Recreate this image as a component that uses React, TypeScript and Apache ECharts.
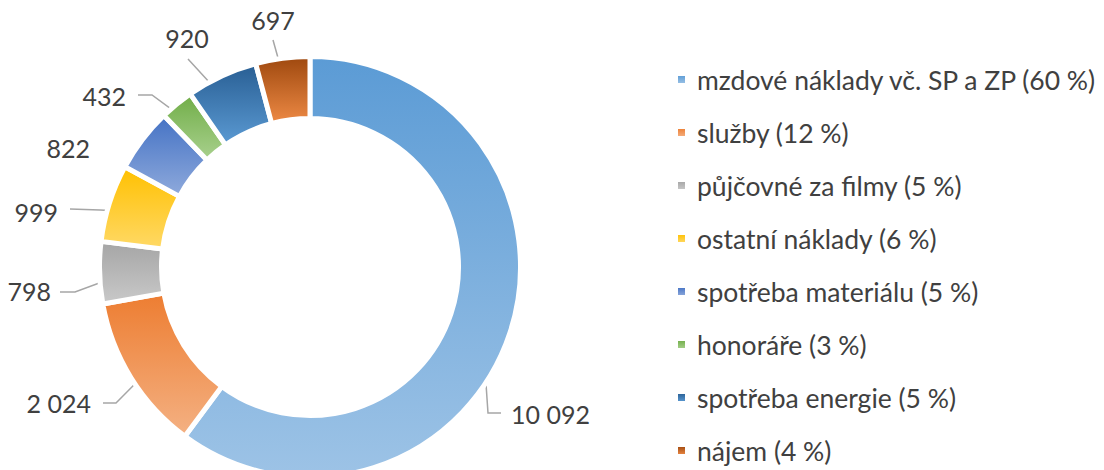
import React, { useEffect, useRef } from "react";
import * as echarts from "echarts";

// ---- data ----
const categories = [
  "mzdové náklady vč. SP a ZP",
  "služby",
  "půjčovné za filmy",
  "ostatní náklady",
  "spotřeba materiálu",
  "honoráře",
  "spotřeba energie",
  "nájem",
];
const values = [10092, 2024, 798, 999, 822, 432, 920, 697];

// ---- styles ----
const topColors = ["#5B9BD5", "#ED7D31", "#A5A5A5", "#FFC000", "#4472C4", "#70AD47", "#285E93", "#9E480E"];
const bottomColors = ["#9DC3E6", "#F4B183", "#C9C9C9", "#FFD966", "#8FAADC", "#A9D18E", "#5B9AD3", "#EE8A45"];

// ---- layout (px) ----
const CX = 310;
const CY = 267;
const OUTER = 210.5;
const INNER = 148.5;
const ANCHOR_R = 181;
// label text position [x, y, align] and leader line points near the text
const labelPos: [number, number, string][] = [
  [511, 414, "left"],
  [91, 403, "right"],
  [51, 291, "right"],
  [58, 212, "right"],
  [90, 148, "right"],
  [126, 96, "right"],
  [187, 38, "center"],
  [273, 20, "center"],
];
const leaderNear: number[][][] = [
  [[488, 413], [501, 413]],
  [[116, 403], [103, 403]],
  [[75, 292], [60, 292]],
  [[100, 210], [70, 209]],
  [],
  [[152, 95], [138, 95]],
  [[210, 83], [188, 59]],
  [[280, 65], [273, 40]],
];

const fmt = (v: number) => String(v).replace(/\B(?=(\d{3})+(?!\d))/g, " ");

export default function App() {
  const ref = useRef<HTMLDivElement>(null);
  useEffect(() => {
    if (!ref.current) return;
    const chart = echarts.init(ref.current, null, { renderer: "svg" });
    const total = values.reduce((a, b) => a + b, 0);
    const pct = values.map((v) => Math.round((v / total) * 100));
    const mids: number[] = [];
    let cum = 0;
    values.forEach((v) => {
      const a = ((cum + v / 2) / total) * Math.PI * 2;
      mids.push(a);
      cum += v;
    });
    const data = values.map((v, i) => ({
      name: categories[i],
      value: v,
      itemStyle: {
        color: new echarts.graphic.LinearGradient(0, 0, 0, 1, [
          { offset: 0, color: topColors[i] },
          { offset: 1, color: bottomColors[i] },
        ]),
      },
      labelLine: { show: leaderNear[i].length > 0 },
    }));
    chart.setOption({
      animation: false,
      legend: {
        orient: "vertical",
        left: 676,
        top: 66,
        padding: 0,
        height: 420,
        itemWidth: 9,
        itemHeight: 9,
        itemGap: 26,
        icon: "rect",
        textStyle: {
          fontFamily: "Lato",
          fontSize: 26.5,
          lineHeight: 26,
          color: "#404040",
          padding: [0, 0, 0, 6],
        },
        formatter: (name: string) => {
          const i = categories.indexOf(name);
          return `${name} (${pct[i]} %)`;
        },
      },
      series: [
        {
          type: "pie",
          center: [CX, CY],
          radius: [INNER, OUTER],
          startAngle: 90,
          clockwise: true,
          avoidLabelOverlap: false,
          itemStyle: { borderColor: "#ffffff", borderWidth: 5 },
          emphasis: { disabled: true },
          label: {
            show: true,
            position: "outside",
            formatter: (p: any) => fmt(p.value),
            fontFamily: "Lato",
            fontSize: 25,
            color: "#404040",
          },
          labelLine: {
            show: true,
            lineStyle: { color: "#A6A6A6", width: 1.5 },
          },
          labelLayout: (params: any) => {
            const i = params.dataIndex;
            const a = mids[i];
            const anchor = [CX + Math.sin(a) * ANCHOR_R, CY - Math.cos(a) * ANCHOR_R];
            const pts = [anchor, ...leaderNear[i]];
            const lp = labelPos[i];
            return {
              x: lp[0],
              y: lp[1],
              align: lp[2],
              verticalAlign: "middle",
              labelLinePoints: pts.length > 1 ? pts : undefined,
            };
          },
          data,
        },
      ],
    });
    return () => chart.dispose();
  }, []);
  return (
    <div
      ref={ref}
      style={{ position: "fixed", left: 0, top: 0, width: 1104, height: 470, background: "#fff" }}
    />
  );
}
